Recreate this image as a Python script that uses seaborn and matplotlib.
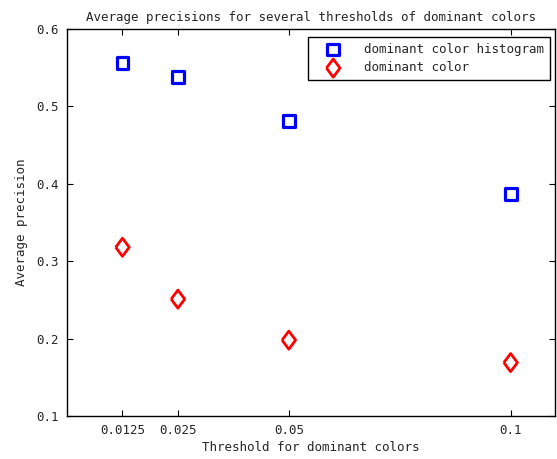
import matplotlib
matplotlib.use("Agg")
import matplotlib.pyplot as plt
import seaborn as sns
import pandas as pd

thresholds = [0.0125, 0.025, 0.05, 0.1]
hist_precision = [0.556, 0.538, 0.481, 0.387]
color_precision = [0.318, 0.251, 0.198, 0.169]
tick_labels = ["0.0125", "0.025", "0.05", "0.1"]
series_names = ["dominant color histogram", "dominant color"]

sns.set_style("white")
plt.rcParams['font.family'] = ['DejaVu Sans Mono', 'DejaVu Sans']
plt.rcParams['font.size'] = 9

fig = plt.figure(figsize=(5.57, 4.59), dpi=100)
ax = fig.add_axes([0.1203, 0.0937, 0.8761, 0.8431])

df1 = pd.DataFrame({"x": thresholds, "y": hist_precision})
df2 = pd.DataFrame({"x": thresholds, "y": color_precision})

diamond = [(-0.75, 0.0), (0.0, 1.0), (0.75, 0.0), (0.0, -1.0), (-0.75, 0.0)]

sns.scatterplot(data=df1, x="x", y="y", ax=ax, marker="s", s=72,
                facecolor="none", edgecolor="#0000ff", linewidth=2.3,
                label=series_names[0])
sns.scatterplot(data=df2, x="x", y="y", ax=ax, marker=diamond, s=170,
                facecolor="none", edgecolor="#ff0000", linewidth=2.0,
                label=series_names[1])

ax.set_xlim(0, 0.11)
ax.set_ylim(0.1, 0.6)
ax.set_xticks(thresholds)
ax.set_xticklabels(tick_labels)
ax.set_yticks([0.1, 0.2, 0.3, 0.4, 0.5, 0.6])
ax.set_yticklabels(["0.1", "0.2", "0.3", "0.4", "0.5", "0.6"])
ax.tick_params(direction="in", length=4, top=True, right=True, bottom=True, left=True,
               labelsize=9, color="black", pad=6)
for sp in ax.spines.values():
    sp.set_color("black")
    sp.set_linewidth(1)
ax.set_xlabel("Threshold for dominant colors", fontsize=9, labelpad=3)
ax.set_ylabel("Average precision", fontsize=9, labelpad=6)
ax.set_title("Average precisions for several thresholds of dominant colors", fontsize=9, pad=6)

leg = ax.legend(loc="upper right", fancybox=False, edgecolor="black", framealpha=1,
                fontsize=9, borderpad=0.45, handlelength=3.2, handletextpad=0.9,
                labelspacing=0.45, borderaxespad=0, bbox_to_anchor=(0.990, 0.979))
leg.get_frame().set_linewidth(1)

fig.savefig("out.png", dpi=100)
